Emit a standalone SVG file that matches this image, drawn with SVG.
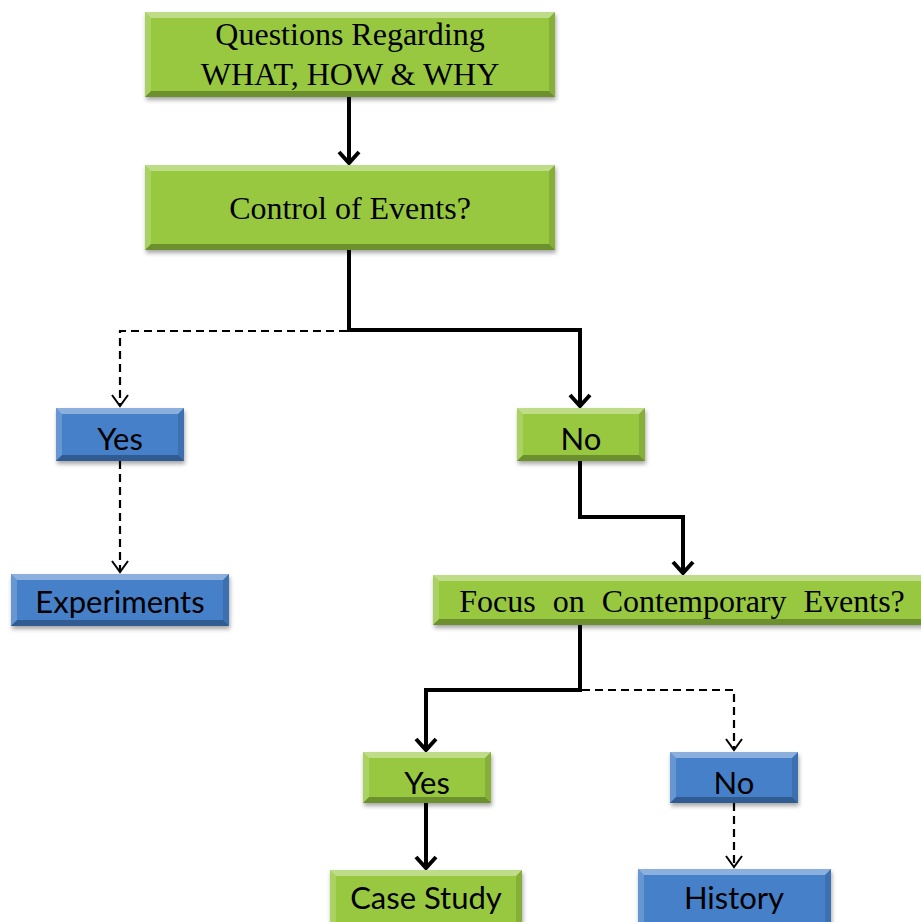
<svg xmlns="http://www.w3.org/2000/svg" width="921" height="922" viewBox="0 0 921 922">
<defs>
<filter id="sh" x="-10%" y="-20%" width="120%" height="150%">
<feDropShadow dx="1" dy="3" stdDeviation="2" flood-color="#000" flood-opacity="0.35"/>
</filter>
<marker id="ah" markerUnits="userSpaceOnUse" markerWidth="30" markerHeight="30" viewBox="-15 -15 30 30" refX="0" refY="0" orient="auto">
<path d="M-11,-10 L0,0 L-11,10" fill="none" stroke="#000" stroke-width="4" stroke-linejoin="miter" stroke-linecap="butt"/>
</marker>
<marker id="ahd" markerUnits="userSpaceOnUse" markerWidth="30" markerHeight="30" viewBox="-15 -15 30 30" refX="0" refY="0" orient="auto">
<path d="M-11,-8 L0,0 L-11,8" fill="none" stroke="#000" stroke-width="2"/>
</marker>
</defs>
<style>
.g{fill:#98c840}
.b{fill:#4580c9}
.bt{fill:#fff;fill-opacity:.38}
.bl{fill:#fff;fill-opacity:.18}
.br{fill:#000;fill-opacity:.12}
.bb{fill:#000;fill-opacity:.28}
.box{filter:url(#sh)}
.sr{font-family:"Liberation Serif","Times New Roman",serif;font-size:32px;fill:#000;text-anchor:middle}
.ss{font-family:Lato,"Liberation Sans",sans-serif;font-size:31px;fill:#000;text-anchor:middle}
.solid{fill:none;stroke:#000;stroke-width:4;marker-end:url(#ah)}
.dash{fill:none;stroke:#000;stroke-width:2.2;stroke-dasharray:8 5;marker-end:url(#ahd)}
</style>
<rect width="921" height="922" fill="#fff"/>

<g id="connectors">
<path class="solid" d="M349,97 V163"/>
<path class="solid" d="M349,250 V330 H580 V406"/>
<path class="dash" d="M347,331 H120 V406"/>
<path class="dash" d="M120,461 V572"/>
<path class="solid" d="M580,461 V517 H683 V573"/>
<path class="solid" d="M580,625 V690 H426 V750"/>
<path class="dash" d="M582,690 H734 V750"/>
<path class="solid" d="M426,803 V868"/>
<path class="dash" d="M734,803 V867"/>
</g>

<g id="n-questions">
<g class="box"><rect class="g" x="145" y="12" width="410" height="85"/></g>
<polygon class="bt" points="145,12 555,12 549,18 151,18"/>
<polygon class="bl" points="145,12 151,18 151,91 145,97"/>
<polygon class="br" points="555,12 549,18 549,91 555,97"/>
<polygon class="bb" points="145,97 555,97 549,91 151,91"/>
<text class="sr" x="350" y="45">Questions Regarding</text>
<text class="sr" x="350" y="85">WHAT, HOW &amp; WHY</text>
</g>

<g id="n-control">
<g class="box"><rect class="g" x="145" y="165" width="410" height="85"/></g>
<polygon class="bt" points="145,165 555,165 549,171 151,171"/>
<polygon class="bl" points="145,165 151,171 151,244 145,250"/>
<polygon class="br" points="555,165 549,171 549,244 555,250"/>
<polygon class="bb" points="145,250 555,250 549,244 151,244"/>
<text class="sr" x="350" y="219">Control of Events?</text>
</g>

<g id="n-yes1">
<g class="box"><rect class="b" x="56" y="408" width="128" height="53"/></g>
<polygon class="bt" points="56,408 184,408 178,414 62,414"/>
<polygon class="bl" points="56,408 62,414 62,455 56,461"/>
<polygon class="br" points="184,408 178,414 178,455 184,461"/>
<polygon class="bb" points="56,461 184,461 178,455 62,455"/>
<text class="ss" x="120" y="450">Yes</text>
</g>

<g id="n-no1">
<g class="box"><rect class="g" x="517" y="408" width="128" height="53"/></g>
<polygon class="bt" points="517,408 645,408 639,414 523,414"/>
<polygon class="bl" points="517,408 523,414 523,455 517,461"/>
<polygon class="br" points="645,408 639,414 639,455 645,461"/>
<polygon class="bb" points="517,461 645,461 639,455 523,455"/>
<text class="ss" x="581" y="450">No</text>
</g>

<g id="n-experiments">
<g class="box"><rect class="b" x="11" y="574" width="218" height="52"/></g>
<polygon class="bt" points="11,574 229,574 223,580 17,580"/>
<polygon class="bl" points="11,574 17,580 17,620 11,626"/>
<polygon class="br" points="229,574 223,580 223,620 229,626"/>
<polygon class="bb" points="11,626 229,626 223,620 17,620"/>
<text class="ss" x="120" y="613">Experiments</text>
</g>

<g id="n-focus">
<g class="box"><rect class="g" x="433" y="575" width="500" height="50"/></g>
<polygon class="bt" points="433,575 933,575 927,581 439,581"/>
<polygon class="bl" points="433,575 439,581 439,619 433,625"/>
<polygon class="bb" points="433,625 933,625 927,619 439,619"/>
<text class="sr" x="682" y="612" word-spacing="9">Focus on Contemporary Events?</text>
</g>

<g id="n-yes2">
<g class="box"><rect class="g" x="363" y="752" width="128" height="51"/></g>
<polygon class="bt" points="363,752 491,752 485,758 369,758"/>
<polygon class="bl" points="363,752 369,758 369,797 363,803"/>
<polygon class="br" points="491,752 485,758 485,797 491,803"/>
<polygon class="bb" points="363,803 491,803 485,797 369,797"/>
<text class="ss" x="427" y="794">Yes</text>
</g>

<g id="n-no2">
<g class="box"><rect class="b" x="670" y="752" width="128" height="51"/></g>
<polygon class="bt" points="670,752 798,752 792,758 676,758"/>
<polygon class="bl" points="670,752 676,758 676,797 670,803"/>
<polygon class="br" points="798,752 792,758 792,797 798,803"/>
<polygon class="bb" points="670,803 798,803 792,797 676,797"/>
<text class="ss" x="734" y="794">No</text>
</g>

<g id="n-case">
<g class="box"><rect class="g" x="330" y="870" width="192" height="60"/></g>
<polygon class="bt" points="330,870 522,870 516,876 336,876"/>
<polygon class="bl" points="330,870 336,876 336,930 330,930"/>
<polygon class="br" points="522,870 516,876 516,930 522,930"/>
<text class="ss" x="426" y="909">Case Study</text>
</g>

<g id="n-history">
<g class="box"><rect class="b" x="638" y="869" width="193" height="60"/></g>
<polygon class="bt" points="638,869 831,869 825,875 644,875"/>
<polygon class="bl" points="638,869 644,875 644,930 638,930"/>
<polygon class="br" points="831,869 825,875 825,930 831,930"/>
<text class="ss" x="734" y="909">History</text>
</g>
</svg>
